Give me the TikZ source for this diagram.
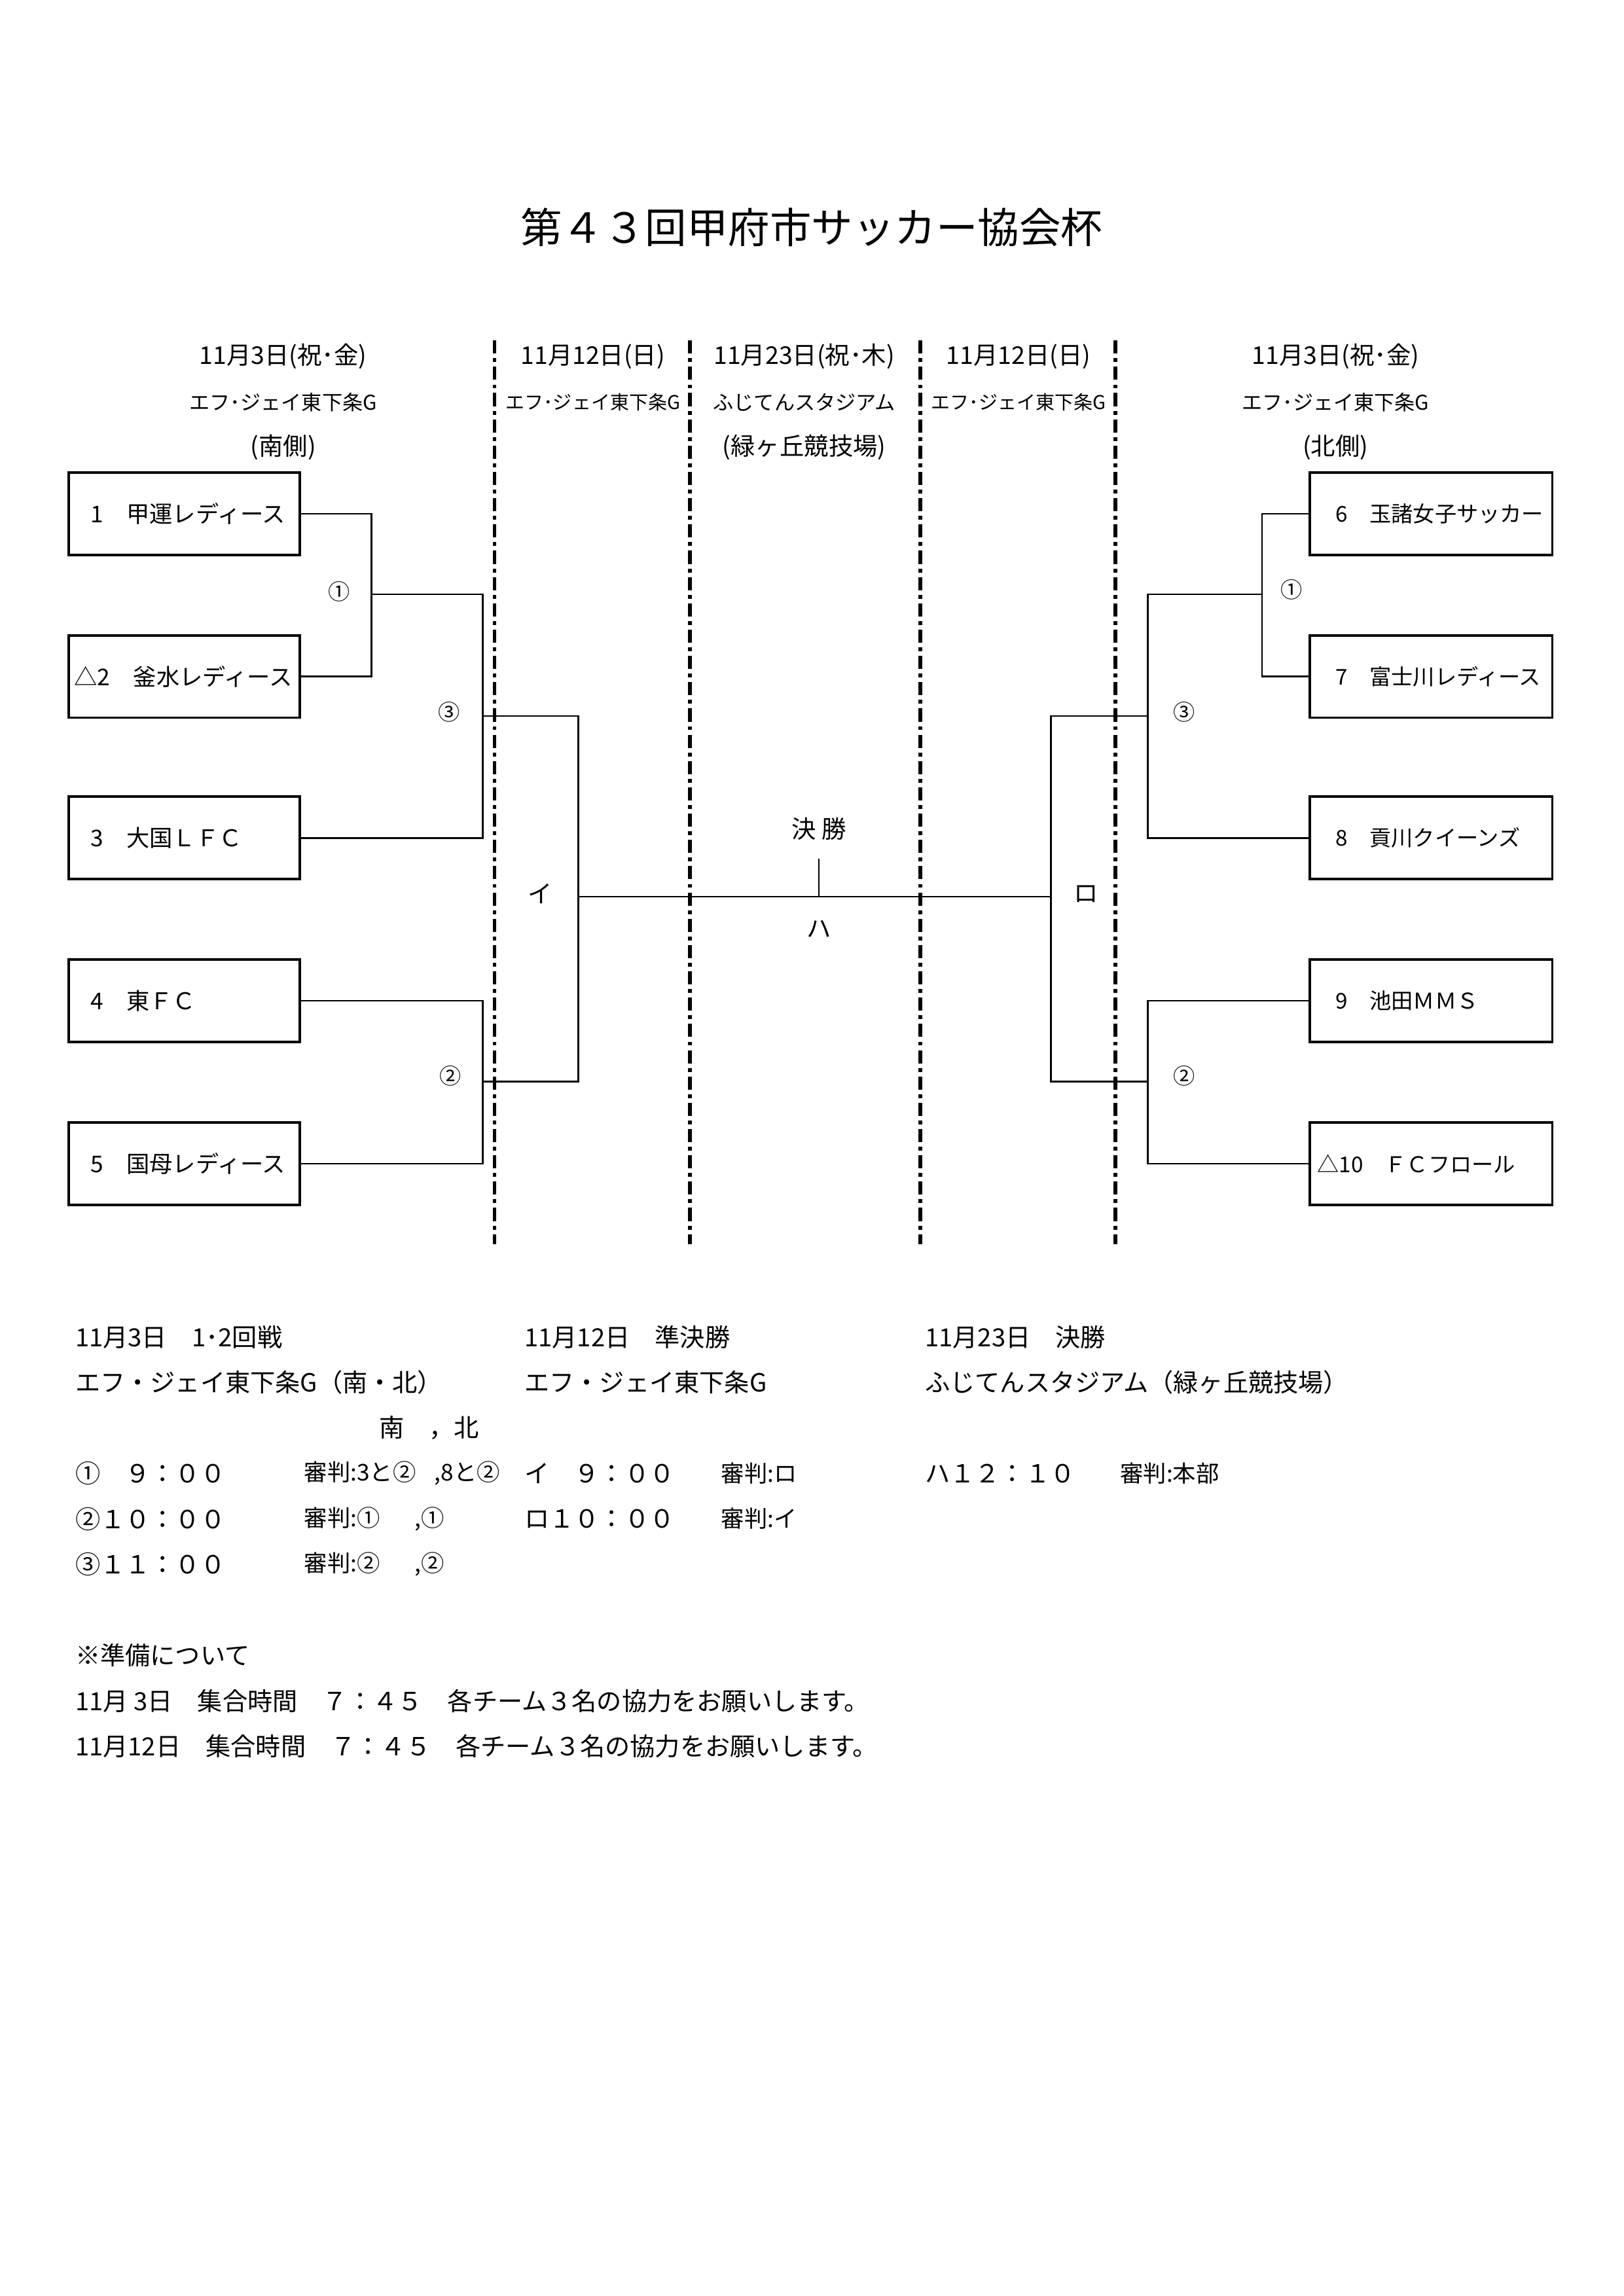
\documentclass[tikz,border=0pt]{standalone}
\usepackage{fontspec}
\setmainfont{Noto Sans CJK JP}
\usetikzlibrary{positioning}

\tikzset{
  team/.style={draw, line width=0.9pt, minimum height=10.66mm, align=left},
  lteam/.style={team, text width=24.2mm, inner xsep=2.85mm, font=\fontsize{8.5}{10}\selectfont},
  rteam/.style={team, text width=24.6mm, inner xsep=3.4mm, font=\fontsize{8}{10}\selectfont},
  bline/.style={line width=0.6pt},
  sep/.style={line width=1.3pt, dash pattern=on 1.7mm off 0.6mm on 0.5mm off 0.6mm},
  rnd/.style={inner sep=0pt, font=\fontsize{8}{10}\selectfont},
  hdate/.style={inner sep=0pt, font=\fontsize{9}{11}\selectfont},
  hplace/.style={inner sep=0pt, font=\fontsize{7.5}{9}\selectfont},
  info/.style={anchor=west, inner sep=0pt, font=\fontsize{9.2}{11}\selectfont},
  ref/.style={anchor=west, inner sep=0pt, font=\fontsize{8.5}{10}\selectfont}
}

\begin{document}
\begin{tikzpicture}[x=0.18982mm, y=-0.18982mm]
\useasboundingbox (0,0) rectangle (1106.3,1564.6);

% title
\node[font=\fontsize{15.3}{18}\selectfont] (title) at (553,155) {第４３回甲府市サッカー協会杯};

% headers
\node[hdate] (hl1) at (193,243) {11月3日(祝･金)};
\node[hplace] (hl2) at (193,274) {エフ･ジェイ東下条G};
\node[hdate] (hl3) at (193,305) {(南側)};
\node[hdate] (hm1) at (404,243) {11月12日(日)};
\node[hplace, font=\fontsize{7}{9}\selectfont] (hm2) at (404,274) {エフ･ジェイ東下条G};
\node[hdate] (hc1) at (548,243) {11月23日(祝･木)};
\node[hplace] (hc2) at (548,274) {ふじてんスタジアム};
\node[hdate] (hc3) at (548,305) {(緑ヶ丘競技場)};
\node[hdate] (hn1) at (694,243) {11月12日(日)};
\node[hplace, font=\fontsize{7}{9}\selectfont] (hn2) at (694,274) {エフ･ジェイ東下条G};
\node[hdate] (hr1) at (910,243) {11月3日(祝･金)};
\node[hplace] (hr2) at (910,274) {エフ･ジェイ東下条G};
\node[hdate] (hr3) at (910,305) {(北側)};

% separators
\foreach \x in {337,470,627,760}
  \draw[sep] (\x,232) -- (\x,848);

% teams south
\node[lteam] (t1) at (125.5,350) {1　甲運レディース};
\node[lteam] (t2) at (125.5,461) {\hspace*{-2.1mm}△2　釜水レディース};
\node[lteam] (t3) at (125.5,571) {3　大国ＬＦＣ};
\node[lteam] (t4) at (125.5,682) {4　東ＦＣ};
\node[lteam] (t5) at (125.5,793) {5　国母レディース};

% teams north
\node[rteam] (t6) at (975,350) {6　玉諸女子サッカー};
\node[rteam] (t7) at (975,461) {7　富士川レディース};
\node[rteam] (t8) at (975,571) {8　貢川クイーンズ};
\node[rteam] (t9) at (975,682) {9　池田ＭＭＳ};
\node[rteam] (t10) at (975,793) {\hspace*{-2.4mm}△10　ＦＣフロール};

% junctions
\coordinate (m1) at (253,405);
\coordinate (m3) at (329,488);
\coordinate (m2) at (329,737);
\coordinate (semi) at (394,611);
\coordinate (n1) at (860,405);
\coordinate (n3) at (782,488);
\coordinate (n2) at (782,737);
\coordinate (semr) at (716,611);

% south bracket
\draw[bline] (t1.east) -| (m1);
\draw[bline] (t2.east) -| (m1);
\draw[bline] (m1) -| (m3);
\draw[bline] (t3.east) -| (m3);
\draw[bline] (t4.east) -| (m2);
\draw[bline] (t5.east) -| (m2);
\draw[bline] (m3) -| (semi);
\draw[bline] (m2) -| (semi);

% north bracket
\draw[bline] (t6.west) -| (n1);
\draw[bline] (t7.west) -| (n1);
\draw[bline] (n1) -| (n3);
\draw[bline] (t8.west) -| (n3);
\draw[bline] (t9.west) -| (n2);
\draw[bline] (t10.west) -| (n2);
\draw[bline] (n3) -| (semr);
\draw[bline] (n2) -| (semr);

% final
\draw[bline] (semi) -- (semr);
\node[hdate] (final) at (558,565) {決 勝};
\coordinate (tick) at (558,585);
\draw[bline] (tick) -- (tick |- semi);
\node[hdate] (ha) at (558,633) {ハ};

% round labels
\node[rnd] (r1) at (231,403) {①};
\node[rnd] (r3) at (306,485) {③};
\node[rnd] (r2) at (307,733) {②};
\node[rnd] (q1) at (880,402) {①};
\node[rnd] (q3) at (807,485) {③};
\node[rnd] (q2) at (807,733) {②};
\node[hdate] (ii) at (368,609) {イ};
\node[hdate] (ro) at (740,609) {ロ};

% schedule
\node[info] (s1) at (51,911) {11月3日　1･2回戦};
\node[info] (s2) at (357,911) {11月12日　準決勝};
\node[info] (s3) at (630,911) {11月23日　決勝};
\node[info] (p1) at (51,942) {エフ・ジェイ東下条G（南・北）};
\node[info] (p2) at (357,942) {エフ・ジェイ東下条G};
\node[info] (p3) at (630,942) {ふじてんスタジアム（緑ヶ丘競技場）};
\node[info] (sn) at (258,973) {南　，北};
\node[info] (a1) at (51,1004) {①　９：００};
\node[ref] (b1) at (207,1004) {審判:3と②\hspace{2.4mm},8と②};
\node[info] (c1) at (357,1004) {イ　９：００};
\node[ref] (d1) at (491,1004) {審判:ロ};
\node[info] (e1) at (630,1004) {ハ１２：１０};
\node[ref] (f1) at (763,1004) {審判:本部};
\node[info] (a2) at (51,1035) {②１０：００};
\node[ref] (b2) at (207,1035) {審判:①\hspace{4.5mm},①};
\node[info] (c2) at (357,1035) {ロ１０：００};
\node[ref] (d2) at (491,1035) {審判:イ};
\node[info] (a3) at (51,1066) {③１１：００};
\node[ref] (b3) at (207,1066) {審判:②\hspace{4.5mm},②};

% notes
\node[info] (note) at (51,1128) {※準備について};
\node[info] (g1) at (51,1159) {11月 3日　集合時間　７：４５　各チーム３名の協力をお願いします。};
\node[info] (g2) at (51,1190) {11月12日　集合時間　７：４５　各チーム３名の協力をお願いします。};
\end{tikzpicture}
\end{document}
